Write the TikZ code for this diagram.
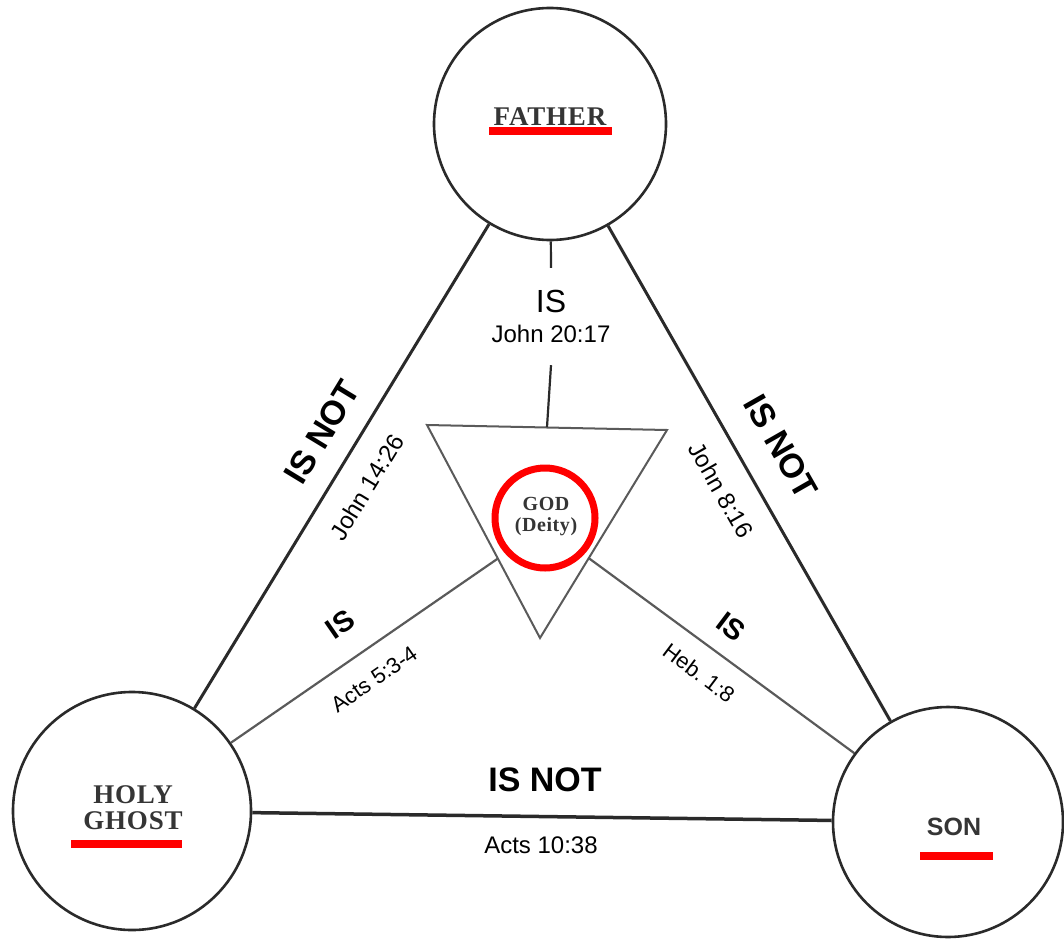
\documentclass[tikz,border=0pt]{standalone}
\usepackage{fontspec}
\newfontfamily\lsans{Liberation Sans}
\newfontfamily\lserif[LetterSpace=3]{Liberation Serif}
\definecolor{ink}{HTML}{353535}
\definecolor{linegray}{HTML}{2A2A2A}
\definecolor{thingray}{HTML}{5A5A5A}
\definecolor{ured}{HTML}{FF0000}
\begin{document}
\begin{tikzpicture}[x=1pt,y=-1pt,
  person/.style={circle,draw=linegray,line width=2.6pt,minimum size=#1,inner sep=0pt},
  rel/.style={draw=linegray,line width=3pt},
  innerrel/.style={draw=thingray,line width=2.2pt},
  bigl/.style={font=\lsans\bfseries\fontsize{34}{34}\selectfont,inner sep=0pt},
  midl/.style={font=\lsans\bfseries\fontsize{29}{29}\selectfont,inner sep=0pt},
  refl/.style={font=\lsans\fontsize{24}{24}\selectfont,inner sep=0pt},
  srefl/.style={font=\lsans\fontsize{22}{22}\selectfont,inner sep=0pt},
  pname/.style={font=\lserif\bfseries\fontsize{27}{27}\selectfont,text=ink,inner sep=0pt},
  uline/.style={fill=ured,draw=none}
]
\useasboundingbox (0,0) rectangle (1064,939);

% persons
\node[person=232pt] (father) at (550,124) {};
\node[person=238pt] (hg) at (132,811) {};
\node[person=230pt] (son) at (948,822) {};

% helper coordinates
\coordinate (dfoc) at (545,526);
\coordinate (ta) at (427,425);
\coordinate (tb) at (667,430);
\coordinate (tc) at (540,638);
\coordinate (ttop) at (547,427);

% outer relations
\draw[rel] (hg) -- (father);
\draw[rel] (father) -- (son);
\draw[rel,line width=3.5pt] (hg) -- (son);

% inner relations (hidden inside triangle)
\draw[innerrel] (hg) -- (dfoc);
\draw[innerrel] (son) -- (dfoc);

% triangle
\filldraw[fill=white,draw=thingray,line width=2pt] (ta) -- (tb) -- (tc) -- cycle;

% top label and vertical connector
\node[align=center,minimum height=97pt,inner sep=0pt] (isf) at (551,316.5)
  {{\lsans\fontsize{32}{32}\selectfont IS}\\[12pt]{\lsans\fontsize{24}{24}\selectfont John 20:17}};
\draw[innerrel,draw=linegray] (father) -- (isf.north);
\draw[innerrel,draw=linegray] (isf.south) -- (ttop);

% God
\node[circle,draw=ured,line width=7pt,minimum size=100pt,inner sep=0pt] (god) at (545,518) {};
\node[font=\lserif\bfseries\fontsize{20}{20}\selectfont,text=ink,align=center,inner sep=0pt] (godt) at (546,517)
  {GOD\\[1pt](Deity)};

% names
\node[pname] (fathert) at (550,117) {FATHER};
\fill[uline] (489,127) rectangle (612,135);
\node[pname,align=center] (hgt) at (133,808) {HOLY\\[-1pt]GHOST};
\fill[uline] (71,840) rectangle (182,848);
\node[font=\lsans\bfseries\fontsize{25}{25}\selectfont,text=ink,inner sep=0pt] (sont) at (954,827) {SON};
\fill[uline] (920,852) rectangle (993,860);

% outer labels
\node[bigl,rotate=58.7] (l1) at (322,432) {IS NOT};
\node[refl,rotate=58.7] (l1r) at (367,487) {John 14:26};
\node[bigl,rotate=-60.3] (l2) at (781,447) {IS NOT};
\node[refl,rotate=-60.3] (l2r) at (721,490) {John 8:16};
\node[bigl] (l3) at (545,780) {IS NOT};
\node[refl] (l3r) at (541,845) {Acts 10:38};

% inner labels
\node[midl,rotate=34.7] (l4) at (340,624) {IS};
\node[srefl,rotate=34.7] (l4r) at (374,679) {Acts 5:3-4};
\node[midl,rotate=-37] (l5) at (731,627) {IS};
\node[srefl,rotate=-37] (l5r) at (699,673) {Heb.\ 1:8};
\end{tikzpicture}
\end{document}
